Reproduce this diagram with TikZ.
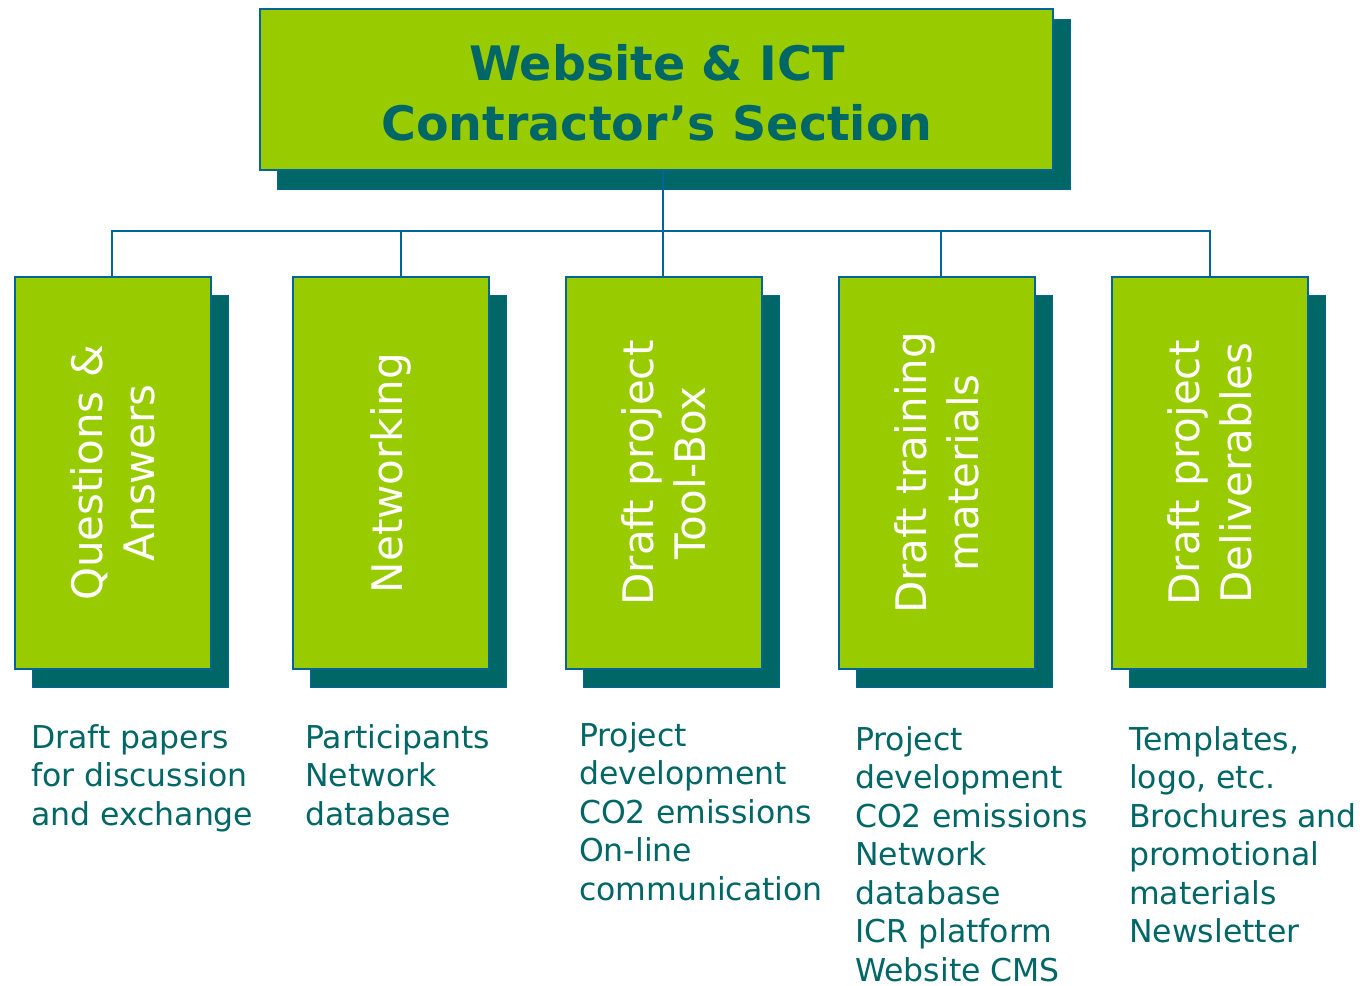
\documentclass[tikz,border=0pt]{standalone}
\usepackage{fontspec}
\setmainfont{DejaVu Sans}
\begin{document}
\begin{tikzpicture}[x=1pt,y=-1pt,
  boxgreen/.style={fill=lgreen,draw=lblue,line width=1.6pt},
  shadowbox/.style={fill=dteal,draw=lblue,line width=1pt},
  conn/.style={draw=lblue,line width=1.6pt},
  rottext/.style={rotate=90,text=white,align=center,font=\fontsize{42}{52}\selectfont,inner sep=0pt},
  listtext/.style={anchor=north west,align=left,text=dteal,font=\fontsize{31.5}{38.5}\selectfont,inner sep=0pt}]
\definecolor{lgreen}{HTML}{99CC00}
\definecolor{dteal}{HTML}{006666}
\definecolor{lblue}{HTML}{006699}
\useasboundingbox (0,0) rectangle (1365,985);
% title
\path[shadowbox] (277,19) rectangle (1070,189);
\path[boxgreen] (260,9) rectangle (1053,170);
\coordinate (ts) at (663,170);
\node[text=dteal,align=center,font=\bfseries\fontsize{47.5}{60}\selectfont,inner sep=0pt] (title) at (657,93) {Website \& ICT\\Contractor’s Section};
% child boxes
\foreach \i/\x in {1/15,2/293,3/566,4/839,5/1112}{
  \path[shadowbox] (\x+17,295) rectangle (\x+213,687);
  \path[boxgreen] (\x,277) rectangle (\x+196,669);
  \coordinate (c\i) at (\x+98,473);
}
\node[rottext] (t1) at (c1) {Questions \&\\Answers};
\node[rottext] (t2) at (c2) {Networking};
\node[rottext] (t3) at (c3) {Draft project\\Tool-Box};
\node[rottext] (t4) at (c4) {Draft training\\materials};
\node[rottext] (t5) at (c5) {Draft project\\Deliverables};
% connectors
\coordinate (n1) at (112,277);
\coordinate (n2) at (401,277);
\coordinate (n3) at (663,277);
\coordinate (n4) at (941,277);
\coordinate (n5) at (1210,277);
\coordinate (bus) at (663,231);
\draw[conn] (ts) -- (bus);
\draw[conn] (n1) |- (bus) -| (n5);
\foreach \i in {2,3,4}{\draw[conn] (n\i) -- (n\i |- bus);}
% lists
\node[listtext] (l1) at (31,724) {Draft papers\\for discussion\\and exchange};
\node[listtext] (l2) at (305,724) {Participants\\Network\\database};
\node[listtext] (l3) at (579,722) {Project\\development\\CO2 emissions\\On-line\\communication};
\node[listtext] (l4) at (855,726) {Project\\development\\CO2 emissions\\Network\\database\\ICR platform\\Website CMS};
\node[listtext] (l5) at (1129,726) {Templates,\\logo, etc.\\Brochures and\\promotional\\materials\\Newsletter};
\end{tikzpicture}
\end{document}
